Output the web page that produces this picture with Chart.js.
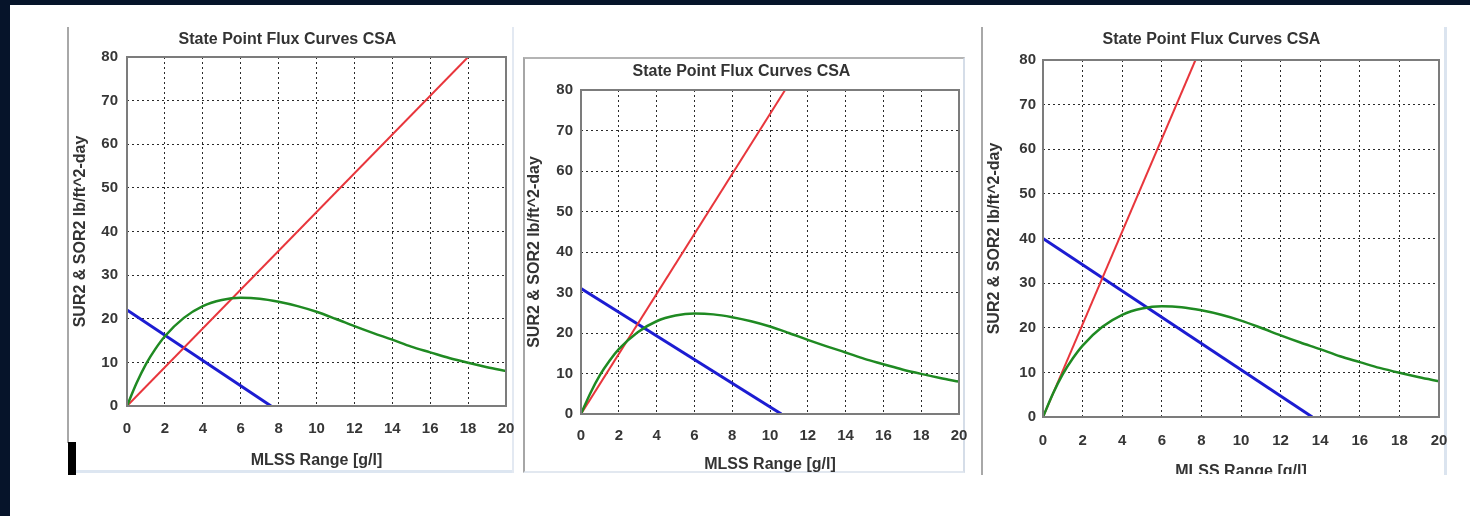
<!DOCTYPE html>
<html>
<head>
<meta charset="utf-8">
<script src="https://cdn.jsdelivr.net/npm/chart.js@4.4.0/dist/chart.umd.min.js"></script>
<style>
    html, body { margin: 0; padding: 0; background: #ffffff; }
    body { position: relative; width: 1470px; height: 516px; overflow: hidden; }
    .faixa { position: absolute; background: #06142a; }
    .linha { position: absolute; }
    .painel { position: absolute; overflow: hidden; }
    canvas { display: block; }
</style>
</head>
<body>
    <!-- moldura escura da captura -->
    <div class="faixa" style="left:0;top:0;width:1470px;height:5px;"></div>
    <div class="faixa" style="left:0;top:0;width:10px;height:516px;"></div>

    <!-- bordas do painel 1 -->
    <div class="linha" style="left:67px;top:27px;width:2px;height:416px;background:#a8a8a8;"></div>
    <div class="linha" style="left:68px;top:442px;width:8px;height:33px;background:#000;"></div>
    <div class="linha" style="left:76px;top:470px;width:437px;height:3px;background:#dde6f1;"></div>
    <div class="linha" style="left:512px;top:27px;width:2px;height:446px;background:#e3e9f2;"></div>

    <!-- borda do painel 2 -->
    <div class="linha" style="left:523px;top:57px;width:438px;height:412px;border-left:2px solid #a6a6a6;border-top:2px solid #b4b4b4;border-right:2px solid #d5dde8;border-bottom:2px solid #e2e8f0;"></div>

    <!-- bordas do painel 3 -->
    <div class="linha" style="left:981px;top:27px;width:2px;height:448px;background:#a8a8a8;"></div>
    <div class="linha" style="left:1444px;top:27px;width:3px;height:448px;background:#dbe4ef;"></div>

    <div class="painel" style="left:69px;top:28px;width:447px;height:444px;">
        <canvas id="grafico-1" width="447" height="444"></canvas>
    </div>
    <div class="painel" style="left:524px;top:59px;width:446px;height:416px;">
        <canvas id="grafico-2" width="446" height="416"></canvas>
    </div>
    <div class="painel" style="left:984px;top:28px;width:466px;height:446px;">
        <canvas id="grafico-3" width="466" height="462"></canvas>
    </div>

<script>
/* ======================================================
   DADOS
   ====================================================== */
const xTickLabels = [0, 2, 4, 6, 8, 10, 12, 14, 16, 18, 20];
const yTickLabels = [0, 10, 20, 30, 40, 50, 60, 70, 80];

// curva de fluxo de sólidos (igual nos três gráficos)
const fluxMlss   = [0, 0.5, 1, 1.5, 2, 3, 4, 5, 6, 7, 8, 9, 10, 11, 12, 13, 14, 15, 16, 17, 18, 19, 20];
const fluxValues = [0, 5.2, 9.6, 13.1, 16.0, 20.2, 22.9, 24.3, 24.8, 24.6, 23.9, 22.9, 21.6, 20.0, 18.3, 16.7, 15.2, 13.6, 12.3, 11.0, 9.9, 8.9, 8.0];

// linha de overflow (vermelha)
const overflowX1 = [0, 18];
const overflowY1 = [0, 80];
const overflowX2 = [0, 10.8];
const overflowY2 = [0, 80];
const overflowX3 = [0, 7.7];
const overflowY3 = [0, 80];

// linha de underflow (azul)
const underflowX1 = [0, 7.6];
const underflowY1 = [22, 0];
const underflowX2 = [0, 10.6];
const underflowY2 = [31, 0];
const underflowX3 = [0, 13.6];
const underflowY3 = [40, 0];

const titulo = "State Point Flux Curves CSA";
const tituloX = "MLSS Range [g/l]";
const tituloY = "SUR2 & SOR2 lb/ft^2-day";

const fonte = "'Liberation Sans', Arial, sans-serif";

/* ======================================================
   MOLDURA DA ÁREA DO GRÁFICO
   ====================================================== */
const molduraPlugin = {
    id: "moldura",
    afterDatasetsDraw(chart) {
        const { ctx, chartArea: a } = chart;
        ctx.save();
        ctx.strokeStyle = "#7c7c7c";
        ctx.lineWidth = 2;
        ctx.strokeRect(a.left, a.top, a.right - a.left, a.bottom - a.top);
        ctx.restore();
    }
};

function pontos(xs, ys) {
    return xs.map((x, i) => ({ x, y: ys[i] }));
}

/* ======================================================
   CRIAR GRÁFICO
   ====================================================== */
function criarGrafico(id, p) {
    const ctx = document.getElementById(id).getContext("2d");

    return new Chart(ctx, {
        type: "line",
        data: {
            datasets: [
                {
                    data: pontos(fluxMlss, fluxValues),
                    borderColor: "#1f8a22",
                    borderWidth: 2.5,
                    cubicInterpolationMode: "monotone",
                    pointRadius: 0
                },
                {
                    data: pontos(p.overX, p.overY),
                    borderColor: "#e8363c",
                    borderWidth: 2,
                    pointRadius: 0
                },
                {
                    data: pontos(p.underX, p.underY),
                    borderColor: "#1c1cd2",
                    borderWidth: 3,
                    pointRadius: 0
                }
            ]
        },
        options: {
            responsive: false,
            animation: false,
            layout: { padding: { left: 0, right: p.padRight, top: 0, bottom: 0 } },
            plugins: {
                legend: { display: false },
                tooltip: { enabled: false },
                title: {
                    display: true,
                    text: titulo,
                    color: "#333",
                    font: { family: fonte, size: 16, weight: "bold" },
                    padding: { top: p.titTop, bottom: p.titBottom }
                }
            },
            scales: {
                x: {
                    type: "linear",
                    min: 0,
                    max: 20,
                    afterBuildTicks: ax => { ax.ticks = xTickLabels.map(v => ({ value: v })); },
                    afterFit: ax => { ax.height = p.xAxisH; ax.paddingLeft = 0; ax.paddingRight = 0; },
                    grid: { color: "#2a2a2a", lineWidth: 1, drawTicks: false },
                    border: { display: false, dash: [2, 3] },
                    ticks: {
                        padding: p.xTickPad,
                        color: "#363636",
                        maxRotation: 0,
                        autoSkip: false,
                        font: { family: fonte, size: 15, weight: "bold" }
                    },
                    title: {
                        display: true,
                        text: tituloX,
                        color: "#333",
                        font: { family: fonte, size: 16, weight: "bold" },
                        padding: { top: 0, bottom: p.xTitPad }
                    }
                },
                y: {
                    type: "linear",
                    min: 0,
                    max: 80,
                    afterBuildTicks: ax => { ax.ticks = yTickLabels.map(v => ({ value: v })); },
                    afterFit: ax => { ax.width = p.yAxisW; ax.paddingTop = 0; ax.paddingBottom = 0; },
                    grid: { color: "#2a2a2a", lineWidth: 1, drawTicks: false },
                    border: { display: false, dash: [2, 3] },
                    ticks: {
                        padding: p.yTickPad,
                        color: "#363636",
                        font: { family: fonte, size: 15, weight: "bold" }
                    },
                    title: {
                        display: true,
                        text: tituloY,
                        color: "#333",
                        font: { family: fonte, size: 16, weight: "bold" },
                        padding: { top: p.yTitPad, bottom: 0 }
                    }
                }
            }
        },
        plugins: [molduraPlugin]
    });
}

criarGrafico("grafico-1", {
    overX: overflowX1, overY: overflowY1, underX: underflowX1, underY: underflowY1,
    padRight: 10, titTop: 2.4, titBottom: 7.4,
    xAxisH: 66, xTickPad: 14, xTitPad: 1.4,
    yAxisW: 58, yTickPad: 9, yTitPad: 2
});

criarGrafico("grafico-2", {
    overX: overflowX2, overY: overflowY2, underX: underflowX2, underY: underflowY2,
    padRight: 11, titTop: 3.4, titBottom: 8.4,
    xAxisH: 61, xTickPad: 13, xTitPad: 0.4,
    yAxisW: 57, yTickPad: 8, yTitPad: 1
});

criarGrafico("grafico-3", {
    overX: overflowX3, overY: overflowY3, underX: underflowX3, underY: underflowY3,
    padRight: 11, titTop: 2.4, titBottom: 10.4,
    xAxisH: 73, xTickPad: 15, xTitPad: 8.4,
    yAxisW: 59, yTickPad: 7, yTitPad: 1
});
</script>
</body>
</html>
